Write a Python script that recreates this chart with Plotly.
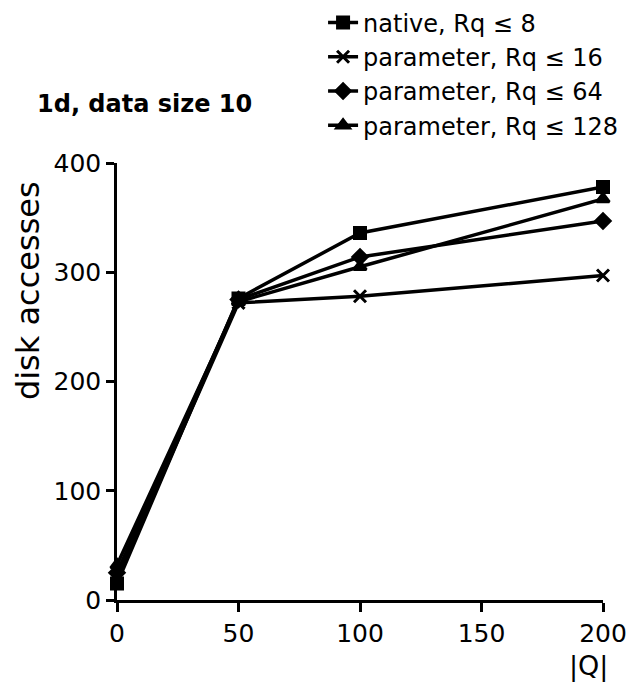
import plotly.graph_objects as go

q_values = [0, 50, 100, 200]
native_8 = [15, 276, 336, 378]
param_16 = [20, 272, 278, 297]
param_64 = [25, 275, 314, 347]
param_128 = [32, 273, 305, 367]

series = [
    ("native, Rq ≤ 8", native_8, "square", 11),
    ("parameter, Rq ≤ 16", param_16, "x-thin", 12),
    ("parameter, Rq ≤ 64", param_64, "diamond", 11),
    ("parameter, Rq ≤ 128", param_128, "triangle-up", 11),
]

FONT = "DejaVu Sans"
fig = go.Figure()
for name, vals, sym, sz in series:
    fig.add_trace(go.Scatter(
        x=q_values, y=vals, name=name, mode="lines+markers",
        line=dict(color="black", width=3.5),
        marker=dict(symbol=sym, size=sz, color="black",
                    line=dict(color="black", width=3)),
        cliponaxis=False,
    ))

fig.update_layout(
    width=631, height=682,
    margin=dict(l=109, r=36, t=155, b=90, autoexpand=False),
    paper_bgcolor="white", plot_bgcolor="white",
    font=dict(family=FONT, size=25, color="black"),
    showlegend=True,
    legend=dict(x=0.424, y=1.372, xanchor="left", yanchor="top",
                font=dict(size=24, family=FONT), tracegroupgap=0,
                itemwidth=30, bgcolor="rgba(0,0,0,0)"),
    xaxis=dict(range=[0, 200], tickvals=[0, 50, 100, 150, 200],
               showgrid=False, zeroline=False, showline=True,
               linecolor="black", linewidth=2.5, ticks="outside",
               ticklen=9, tickwidth=2.5, tickcolor="black",
               automargin=False,
               tickfont=dict(size=25, family=FONT)),
    yaxis=dict(range=[0, 400], tickvals=[0, 100, 200, 300, 400],
               showgrid=False, zeroline=False, showline=True,
               linecolor="black", linewidth=2.5, ticks="outside",
               ticklen=8, tickwidth=2.5, tickcolor="black",
               automargin=False,
               tickfont=dict(size=25, family=FONT)),
    annotations=[
        dict(text="<b>1d, data size 10</b>", xref="paper", yref="paper",
             x=-0.168, y=1.135, xanchor="left", yanchor="middle",
             showarrow=False, font=dict(size=24, family=FONT)),
        dict(text="disk accesses", xref="paper", yref="paper",
             x=-0.183, y=0.707, xanchor="center", yanchor="middle",
             textangle=-90, showarrow=False,
             font=dict(size=32, family=FONT)),
        dict(text="|Q|", xref="paper", yref="paper",
             x=0.97, y=-0.15, xanchor="center", yanchor="middle",
             showarrow=False, font=dict(size=27, family=FONT)),
    ],
)

fig.write_html("out.html")
